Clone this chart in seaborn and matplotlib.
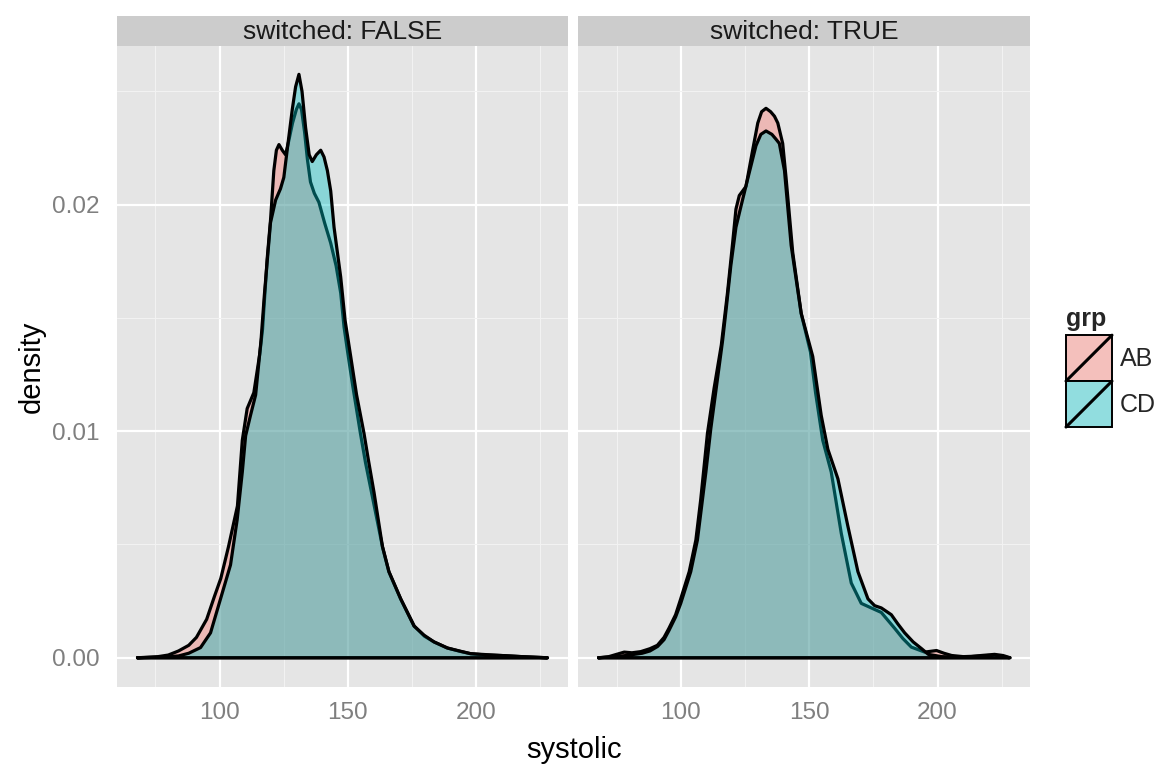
import numpy as np
import pandas as pd
import matplotlib
matplotlib.use("Agg")
import matplotlib.pyplot as plt
from matplotlib.patches import Patch, Rectangle
from matplotlib.lines import Line2D
from matplotlib.legend_handler import HandlerBase
import seaborn as sns

# ---------------- data ----------------
panels = ["FALSE", "TRUE"]
groups = ["AB", "CD"]
group_colors = {"AB": "#F8766D", "CD": "#00BFC4"}
x_ticks = [100, 150, 200]
y_ticks = [0.00, 0.01, 0.02]
y_tick_labels = ["0.00", "0.01", "0.02"]

# switched: FALSE, grp AB  (systolic, density x 1e-3)
false_ab_x = [68, 76, 80, 84, 88, 91, 95, 98, 100.5, 103.5, 107, 108.9, 110.8, 113.4,
              115.7, 116.8, 118.6, 119.9, 121.2, 122.2, 123.2, 124.5, 125.8, 127.0,
              128.5, 130.0, 131.0, 132.0, 133.2, 134.3, 135.5, 137.0, 138.8, 141.0,
              143.4, 145.5, 147.3, 148.6, 150.0, 152.0, 155.0, 157.0, 159.5, 163.6,
              166.1, 170.7, 176.0, 180.0, 183.7, 189.0, 194.0, 198.0, 204.0, 210.0,
              218.0, 228.0]
false_ab_d = [0, 0.05, 0.12, 0.3, 0.55, 0.9, 1.7, 2.7, 3.5, 4.9, 6.7, 9.6, 11.0, 11.7,
              13.4, 14.5, 17.6, 19.3, 21.5, 22.4, 22.65, 22.4, 22.2, 22.8,
              23.6, 24.2, 24.45, 24.2, 23.2, 22.0, 21.0, 20.5, 20.1, 19.2,
              18.3, 17.3, 16.1, 14.6, 13.5, 12.0, 9.9, 8.6, 7.2, 4.9,
              3.8, 2.6, 1.4, 0.95, 0.7, 0.43, 0.28, 0.18, 0.12, 0.1,
              0.05, 0]

# switched: FALSE, grp CD
false_cd_x = [68, 78, 84, 88, 92.6, 96.5, 100.4, 104.3, 106.9, 108.9, 110.2, 112.1,
              114.1, 116.2, 117.5, 119.9, 121.9, 123.8, 125.1, 126.4, 128.4, 129.7,
              131.0, 132.2, 133.6, 135.0, 136.2, 137.8, 139.5, 140.8, 142.1, 143.4,
              144.7, 147.3, 149.0, 151.2, 153.5, 156.4, 158.0, 160.3, 163.6, 166.1,
              170.7, 175.9, 179.8, 183.7, 188.9, 198.0, 209.8, 218.0, 228.0]
false_cd_d = [0, 0.03, 0.08, 0.2, 0.45, 1.1, 2.6, 4.1, 6.1, 8.2, 9.8, 10.7,
              11.6, 14.0, 16.0, 19.2, 20.2, 20.7, 21.2, 22.4, 24.2, 25.2,
              25.75, 25.0, 23.4, 22.2, 21.9, 22.2, 22.4, 22.1, 21.5, 20.6,
              19.0, 16.8, 14.9, 13.3, 11.6, 9.9, 8.8, 7.3, 4.9, 3.8,
              2.6, 1.4, 1.0, 0.7, 0.43, 0.18, 0.1, 0.05, 0]

# switched: TRUE, grp AB
true_ab_x = [68, 72, 75, 78, 81, 84.4, 88, 90.9, 93.5, 95.4, 98, 100, 103.3, 105.9,
             107.8, 110.4, 113.0, 115.8, 118.2, 120.2, 121.5, 122.8, 125.4, 128.0,
             130.0, 131.5, 133.2, 135.0, 136.5, 137.8, 139.7, 141.0, 143.6, 146.9,
             150.5, 152.5, 155.3, 158.6, 162.5, 166.4, 170.3, 174.2, 178.1, 183.3,
             186.5, 189.8, 195.0, 199.6, 202.5, 205.5, 210.0, 215.0, 219.8, 224.0,
             228.0]
true_ab_d = [0, 0.05, 0.15, 0.25, 0.22, 0.27, 0.4, 0.55, 0.9, 1.3, 1.9, 2.6, 3.8, 5.2,
             7.0, 9.9, 11.9, 13.8, 16.1, 18.3, 19.8, 20.4, 20.8, 22.4,
             23.6, 24.1, 24.25, 24.1, 23.9, 23.6, 22.7, 21.2, 17.9, 15.2,
             13.5, 11.7, 9.6, 8.2, 5.5, 3.3, 2.4, 2.2, 2.0, 1.3,
             0.85, 0.47, 0.25, 0.32, 0.2, 0.1, 0.05, 0.07, 0.1, 0.08,
             0]

# switched: TRUE, grp CD
true_cd_x = [68, 75, 80, 85, 88, 91, 93.5, 95.4, 98, 100, 103.9, 106.5, 109.8, 111.7,
             114.3, 116.3, 117.8, 119.5, 121.5, 123.4, 126.0, 129.3, 131.2, 133.2,
             135.5, 137.0, 138.4, 140.4, 143.0, 146.9, 151.4, 154.7, 157.3, 161.2,
             165.1, 169.0, 172.9, 175.5, 178.1, 182.0, 184.5, 187.2, 190.5, 193.8,
             196.4, 201.6, 208.0, 213.0, 217.0, 222.2, 225.5, 228.3]
true_cd_d = [0, 0.05, 0.12, 0.2, 0.3, 0.5, 0.8, 1.2, 1.8, 2.4, 3.8, 5.2, 8.2, 10.1,
             12.3, 14.0, 15.5, 17.3, 19.0, 19.9, 21.1, 22.6, 23.1, 23.25,
             23.1, 22.9, 22.7, 21.5, 18.2, 15.2, 13.3, 10.7, 9.2, 7.9,
             5.8, 3.8, 2.6, 2.3, 2.2, 1.9, 1.5, 1.1, 0.7, 0.4,
             0.15, 0.05, 0.03, 0.05, 0.1, 0.15, 0.1, 0]

curves = {
    ("FALSE", "AB"): (false_ab_x, false_ab_d),
    ("FALSE", "CD"): (false_cd_x, false_cd_d),
    ("TRUE", "AB"): (true_ab_x, true_ab_d),
    ("TRUE", "CD"): (true_cd_x, true_cd_d),
}

rows = []
for (sw, g), (xs, ds) in curves.items():
    for i, (xv, dv) in enumerate(zip(xs, ds)):
        rows.append({"switched": sw, "grp": g, "systolic": xv,
                     "density": dv / 1000.0, "order": i})
df = pd.DataFrame(rows)

# ---------------- style ----------------
sns.set_theme(style="darkgrid")
plt.rcParams["font.family"] = ["Liberation Sans", "DejaVu Sans"]

W, H = 1160, 767
fig = plt.figure(figsize=(W / 100, H / 100), dpi=100)
fig.patch.set_facecolor("white")

panel_top, panel_bot = 46, 687
strip_top = 16
lefts = [117, 578]
rights = [568, 1030]
ALPHA = 0.4

axes = []
for k, sw in enumerate(panels):
    ax = fig.add_axes([lefts[k] / W, 1 - panel_bot / H,
                       (rights[k] - lefts[k]) / W, (panel_bot - panel_top) / H])
    axes.append(ax)
    ax.set_facecolor("#E5E5E5")
    for s in ax.spines.values():
        s.set_visible(False)
    ax.set_axisbelow(True)

    z = 2
    for g in groups:
        sub = df[(df.switched == sw) & (df.grp == g)].sort_values("order")
        xs = sub["systolic"].to_numpy()
        ys = sub["density"].to_numpy()
        ax.fill_between(xs, ys, 0, facecolor=group_colors[g], alpha=ALPHA,
                        linewidth=0, zorder=z)
        closed = pd.DataFrame({"systolic": np.append(xs, xs[0]),
                               "density": np.append(ys, 0.0)})
        sns.lineplot(data=closed, x="systolic", y="density", sort=False,
                     estimator=None, color="black", linewidth=2.3, ax=ax,
                     zorder=z + 1, solid_joinstyle="round", solid_capstyle="round")
        z += 2

    ax.set_xlim(60, 236)
    ax.set_ylim(-0.00129, 0.0270)
    ax.set_xticks(x_ticks)
    ax.set_xticklabels([str(t) for t in x_ticks])
    ax.set_xticks([75, 125, 175, 225], minor=True)
    ax.set_yticks(y_ticks)
    ax.set_yticklabels(y_tick_labels)
    ax.set_yticks([0.005, 0.015, 0.025], minor=True)
    ax.grid(which="major", color="white", linewidth=1.6)
    ax.grid(which="minor", color="#F2F2F2", linewidth=0.8)
    ax.tick_params(which="major", length=6.5, width=1.4, color="#7F7F7F",
                   labelsize=17.5, labelcolor="#7F7F7F", pad=4.5)
    ax.tick_params(axis="y", which="major", pad=6)
    ax.tick_params(which="minor", length=0)
    ax.set_xlabel("")
    ax.set_ylabel("")
    if k == 1:
        ax.tick_params(axis="y", which="both", left=False, labelleft=False)

    # strip
    sax = fig.add_axes([lefts[k] / W, 1 - panel_top / H,
                        (rights[k] - lefts[k]) / W, (panel_top - strip_top) / H])
    sax.set_facecolor("#CCCCCC")
    sax.set_xticks([])
    sax.set_yticks([])
    sax.grid(False)
    for s in sax.spines.values():
        s.set_visible(False)
    sax.text(0.5, 0.47, f"switched: {sw}", ha="center", va="center",
             fontsize=19, color="#1A1A1A", transform=sax.transAxes)

fig.text(31.5 / W, 1 - 367 / H, "density", rotation=90, ha="center", va="center",
         fontsize=21, color="black")
fig.text(574 / W, 1 - 758 / H, "systolic", ha="center", va="baseline",
         fontsize=21, color="black")


class DensityKey(HandlerBase):
    def create_artists(self, legend, orig_handle, xdescent, ydescent, width,
                       height, fontsize, trans):
        x0, y0 = -xdescent, -ydescent
        bg = Rectangle((x0, y0), width, height, facecolor="#F2F2F2",
                       edgecolor="none", transform=trans)
        fc = Rectangle((x0, y0), width, height, facecolor=orig_handle.get_facecolor(),
                       edgecolor="none", transform=trans)
        ec = Rectangle((x0, y0), width, height, facecolor="none",
                       edgecolor="black", linewidth=1.4, transform=trans)
        diag = Line2D([x0, x0 + width], [y0, y0 + height], color="black",
                      linewidth=2.2, transform=trans)
        return [bg, fc, ec, diag]


handles = [Patch(facecolor=group_colors[g], alpha=ALPHA) for g in groups]
leg = fig.legend(handles, groups, title="grp", loc="upper left",
                 bbox_to_anchor=(1066 / W, 1 - 307 / H), frameon=False,
                 handler_map={Patch: DensityKey()}, fontsize=18,
                 title_fontproperties={"weight": "bold", "size": 18},
                 handlelength=1.84, handleheight=2.45, labelspacing=0.0,
                 handletextpad=0.3, borderpad=0, borderaxespad=0)
leg._legend_box.align = "left"
leg._legend_box.sep = 3

fig.savefig("out.png", dpi=100)
